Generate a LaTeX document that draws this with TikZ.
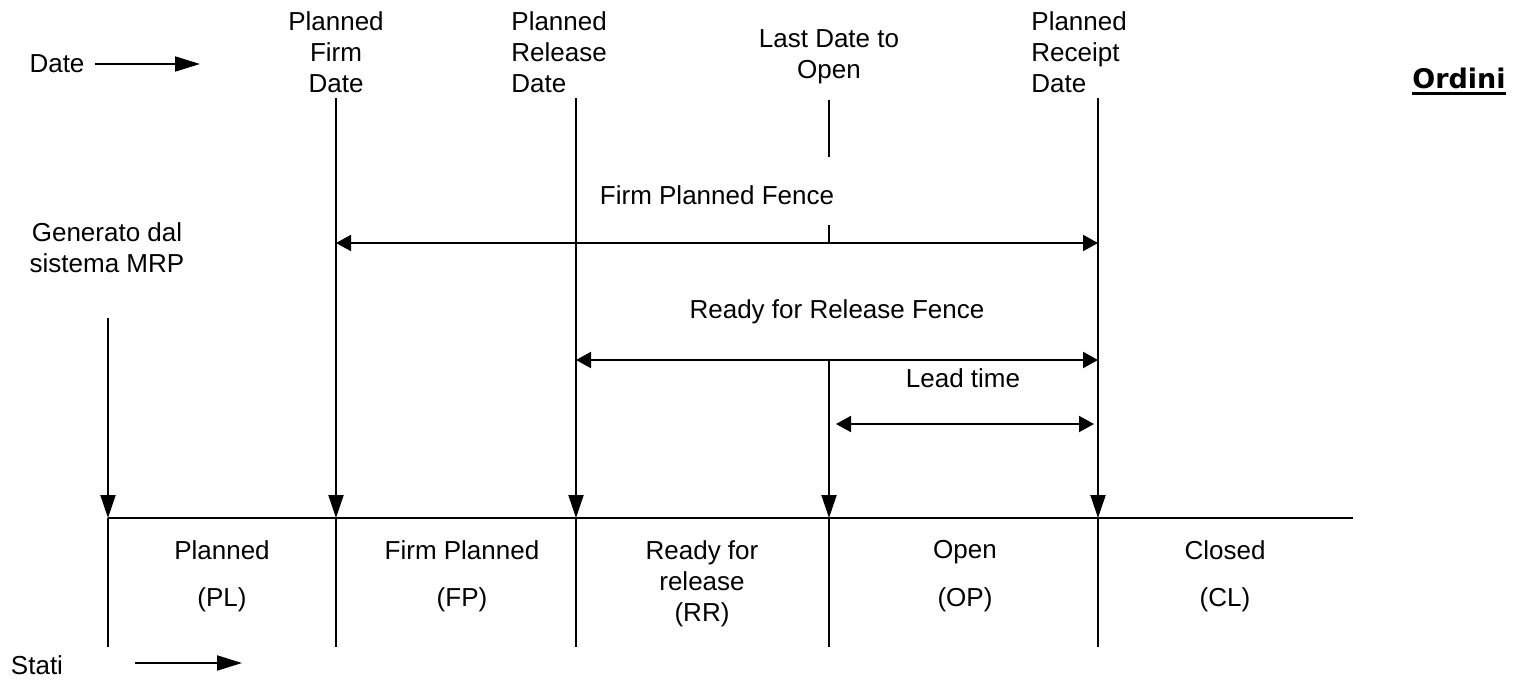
\documentclass[tikz,border=0pt]{standalone}
\usepackage{fontspec}
\setmainfont{Liberation Sans}
\newfontfamily\ordfont{DejaVu Sans}
\usetikzlibrary{arrows.meta}
\begin{document}
\begin{tikzpicture}[x=0.5pt,y=-0.5pt,
 lbl/.style={font=\fontsize{13}{15.5}\selectfont, inner sep=0pt, align=center},
 lbll/.style={lbl, align=left},
 ln/.style={line width=1pt},
 dn/.style={ln,-{Triangle[length=11.5pt,width=7.5pt]}},
 fence/.style={ln,{Triangle[length=7.5pt,width=8pt]}-{Triangle[length=7.5pt,width=8pt]}},
 hd/.style={ln,-{Triangle[length=12.5pt,width=7.5pt]}}]
\useasboundingbox (0,0) rectangle (1518,680);

% header labels
\node[lbl] (date) at (57,64) {Date};
\node[lbl] (stati) at (37,665) {Stati};
\node[lbl] (pfd) at (336,52) {Planned\\Firm\\Date};
\node[lbll, anchor=west] (prd) at (511,52) {Planned\\Release\\Date};
\node[lbl] (ldo) at (829,57) {Last Date to\\Open};
\node[lbll, anchor=west] (prcd) at (1031,52) {Planned\\Receipt\\Date};
\node[font=\ordfont\bfseries\fontsize{13.5}{16}\selectfont, inner sep=0pt] (ord) at (1459,78) {Ordini};
\draw[line width=1.5pt] ([yshift=-2.5pt]ord.south west) -- ([yshift=-2.5pt]ord.south east);
\node[lbl] (gen) at (107,248) {Generato dal\\sistema MRP};

% fence labels
\node[lbl] (fpf) at (717,195) {Firm Planned Fence};
\node[lbl] (rrf) at (837,312) {Ready for Release Fence};
\node[lbl] (lt) at (963,378) {Lead time};

% state labels
\node[lbl] (s1) at (222,550) {Planned};
\node[lbl] (s1b) at (222,600) {(PL)};
\node[lbl] (s2) at (462,550) {Firm Planned};
\node[lbl] (s2b) at (462,600) {(FP)};
\node[lbl] (s3) at (702,584) {Ready for\\release\\(RR)};
\node[lbl] (s4) at (965,552) {Open};
\node[lbl] (s4b) at (965,600) {(OP)};
\node[lbl] (s5) at (1225,550) {Closed};
\node[lbl] (s5b) at (1225,600) {(CL)};

% coordinates
\coordinate (b0) at (108,518);
\coordinate (b1) at (336,518);
\coordinate (b2) at (576,518);
\coordinate (b3) at (829,518);
\coordinate (b4) at (1098,518);
\coordinate (bend) at (1353,518);
\coordinate (e0) at (108,647);
\coordinate (e1) at (336,647);
\coordinate (e2) at (576,647);
\coordinate (e3) at (829,647);
\coordinate (e4) at (1098,647);
\coordinate (t0) at (108,318);
\coordinate (t1) at (336,98);
\coordinate (t2) at (576,98);
\coordinate (t4) at (1098,98);
\coordinate (l3a) at (829,100);
\coordinate (l3b) at (829,157);
\coordinate (l3c) at (829,225);
\coordinate (l3d) at (829,243);
\coordinate (t3) at (829,361);
\coordinate (f1a) at (336,243);
\coordinate (f1b) at (1098,243);
\coordinate (f2a) at (576,360);
\coordinate (f2b) at (1098,360);
\coordinate (f3a) at (836,424);
\coordinate (f3b) at (1094,424);
\coordinate (da) at (95,64);
\coordinate (db) at (200,64);
\coordinate (sa) at (135,663);
\coordinate (sb) at (242,663);

% base line and dividers
\draw[line width=0.9pt] (b0) -- (bend);
\foreach \i in {0,...,4} \draw[ln] (b\i) -- (e\i);

% down arrows
\draw[dn] (t0) -- (b0);
\draw[dn] (t1) -- (b1);
\draw[dn] (t2) -- (b2);
\draw[dn] (t3) -- (b3);
\draw[dn] (t4) -- (b4);
\draw[ln] (l3a) -- (l3b);
\draw[ln] (l3c) -- (l3d);

% fences
\draw[fence] (f1a) -- (f1b);
\draw[fence] (f2a) -- (f2b);
\draw[fence] (f3a) -- (f3b);

% date / stati arrows
\draw[hd] (da) -- (db);
\draw[hd] (sa) -- (sb);
\end{tikzpicture}
\end{document}
